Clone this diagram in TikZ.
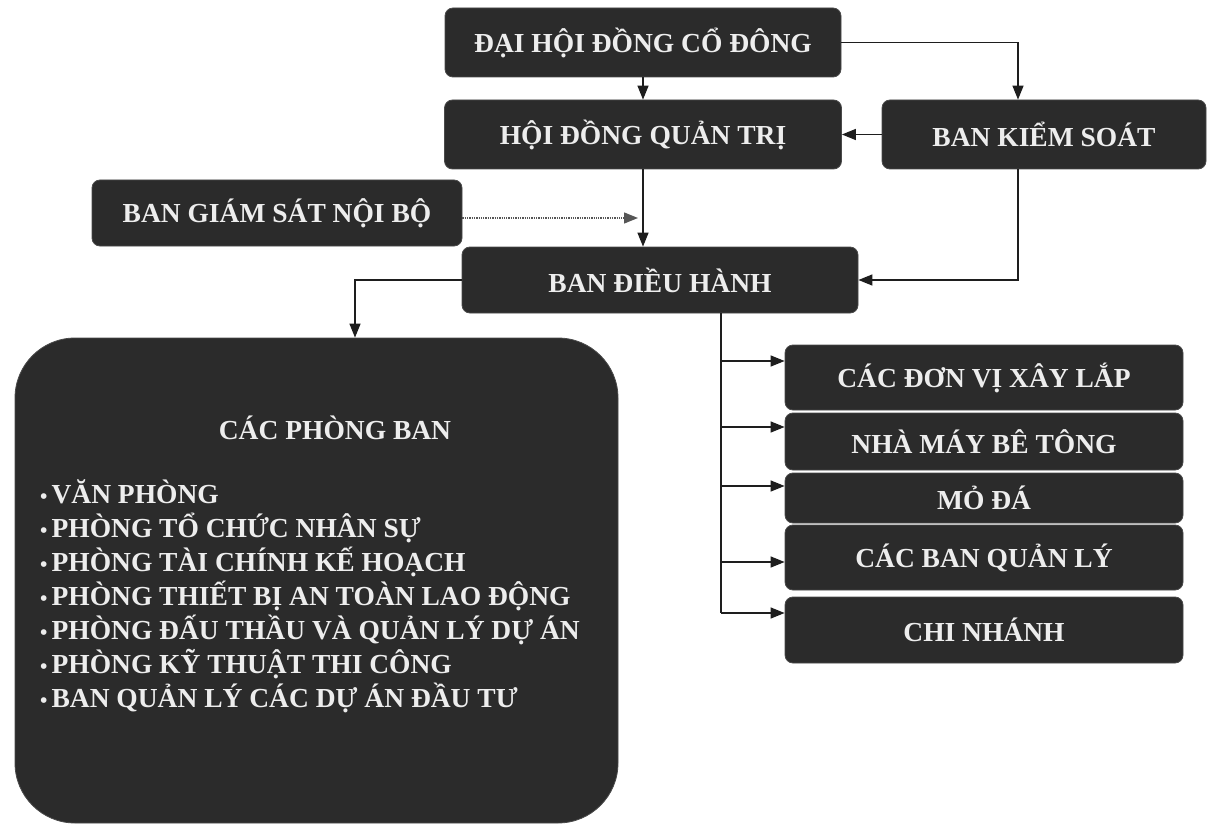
\documentclass[tikz,border=0pt]{standalone}
\usepackage{fontspec}
\setmainfont{Liberation Serif}
\usetikzlibrary{arrows.meta,calc}
\definecolor{boxfill}{HTML}{2B2B2B}
\definecolor{boxedge}{HTML}{4A4A4A}
\definecolor{txt}{HTML}{EDEDED}
\definecolor{linec}{HTML}{1E1E1E}
\newcommand{\blt}{{\fontsize{21}{21}\selectfont •}\hspace{4pt}}
\begin{document}
\begin{tikzpicture}[x=1pt,y=-1pt,
  box/.style={fill=boxfill, draw=boxedge, line width=0.8pt, rounded corners=8pt, text=txt,
    font=\fontsize{27.5}{33}\selectfont\bfseries, inner sep=0pt, align=center},
  bigbox/.style={fill=boxfill, draw=boxedge, line width=0.8pt, rounded corners=60pt, inner sep=0pt},
  ptext/.style={text=txt, font=\fontsize{27.5}{34}\selectfont\bfseries, inner sep=0pt},
  arr/.style={draw=linec, line width=1.3pt, -{Triangle[length=14pt,width=11pt]}},
  conn/.style={draw=linec, line width=1.3pt},
]
\fill[white] (0,0) rectangle (1210,829);
\useasboundingbox (0,0) rectangle (1210,829);

% top chain
\node[box, minimum width=396pt, minimum height=69pt] (dh) at (643,42.5) {ĐẠI HỘI ĐỒNG CỔ ĐÔNG};
\node[box, minimum width=397pt, minimum height=69pt] (hd) at (643,134.5) {HỘI ĐỒNG QUẢN TRỊ};
\node[box, minimum width=324pt, minimum height=69pt] (bks) at (1044,134.5) {BAN KIỂM SOÁT};
\node[box, minimum width=370pt, minimum height=66pt] (bgs) at (277,213) {BAN GIÁM SÁT NỘI BỘ};
\node[box, minimum width=396pt, minimum height=66pt] (bdh) at (660,280) {BAN ĐIỀU HÀNH};

% departments
\node[bigbox, minimum width=603pt, minimum height=485pt] (pb) at (316.5,580.5) {};
\node[ptext] (pbh) at (335,428) {CÁC PHÒNG BAN};
\node[ptext, anchor=west, align=left] (pbl) at (40,596) {%
\blt VĂN PHÒNG\\
\blt PHÒNG TỔ CHỨC NHÂN SỰ\\
\blt PHÒNG TÀI CHÍNH KẾ HOẠCH\\
\blt PHÒNG THIẾT BỊ AN TOÀN LAO ĐỘNG\\
\blt PHÒNG ĐẤU THẦU VÀ QUẢN LÝ DỰ ÁN\\
\blt PHÒNG KỸ THUẬT THI CÔNG\\
\blt BAN QUẢN LÝ CÁC DỰ ÁN ĐẦU TƯ};

% units
\node[box, minimum width=398pt, minimum height=65pt] (u1) at (984,377.5) {CÁC ĐƠN VỊ XÂY LẮP};
\node[box, minimum width=398pt, minimum height=57pt] (u2) at (984,441.5) {NHÀ MÁY BÊ TÔNG};
\node[box, minimum width=398pt, minimum height=50pt] (u3) at (984,498) {MỎ ĐÁ};
\node[box, minimum width=398pt, minimum height=65pt] (u4) at (984,557.5) {CÁC BAN QUẢN LÝ};
\node[box, minimum width=398pt, minimum height=66pt] (u5) at (984,630) {CHI NHÁNH};

% connectors
\draw[arr] (dh.south) -- (hd.north);
\draw[arr] (dh.east) -| ([xshift=-26pt]bks.north);
\draw[arr] (bks.west) -- (hd.east);
\draw[arr] (hd.south) -- (hd.south |- bdh.north);
\coordinate (dotend) at (638,218);
\draw[arr, draw=linec!75, densely dotted] (bgs.east |- dotend) -- (dotend);
\draw[arr] ([xshift=-26pt]bks.south) |- (bdh.east);
\draw[arr] (bdh.west) -| ([xshift=38.5pt]pb.north);

\coordinate (tk) at ([xshift=61pt]bdh.south);
\coordinate (tkend) at (721,613);
\draw[conn] (tk) -- (tkend);
\foreach \yy/\nn in {361/u1,427/u2,486/u3,562/u4,613/u5}{
  \coordinate (rr) at (721,\yy);
  \draw[arr] (rr) -- (\nn.west |- rr);
}
\end{tikzpicture}
\end{document}
